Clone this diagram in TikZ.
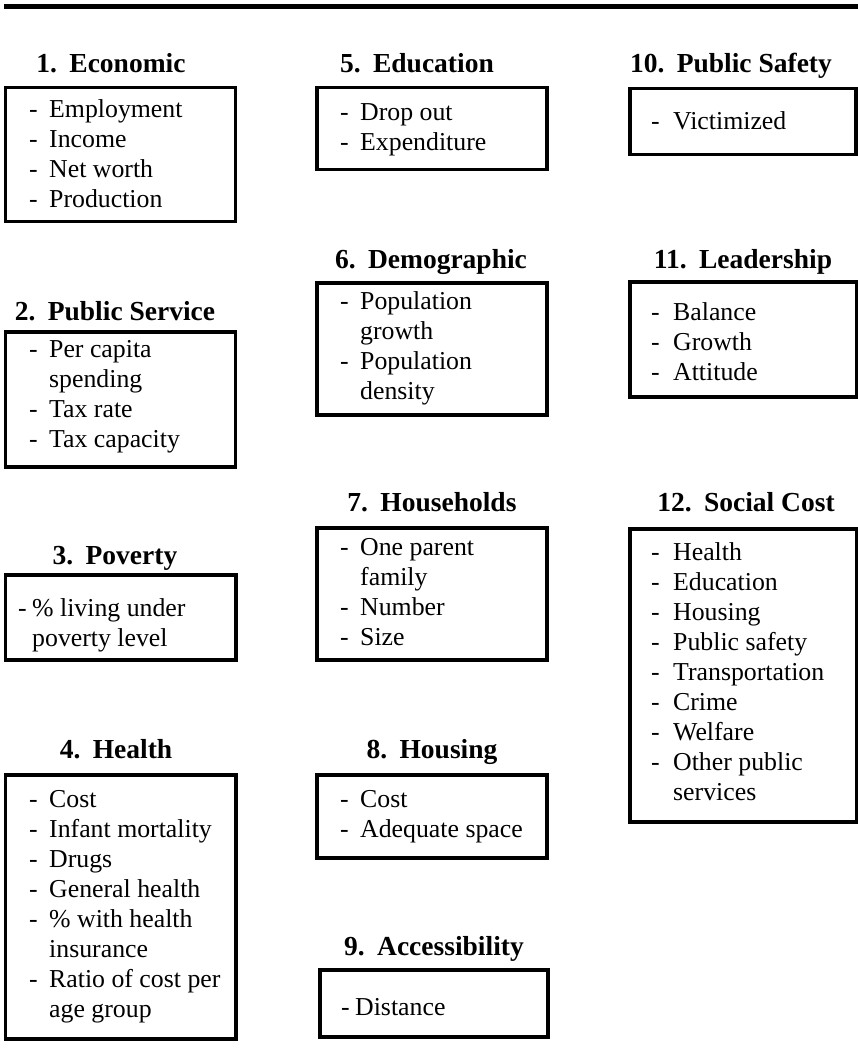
\documentclass[tikz,border=0pt]{standalone}
\usepackage{fontspec}
\setmainfont{Liberation Serif}
\newcommand{\itm}[2][20pt]{\makebox[#1][l]{-}#2}
\newcommand{\cnt}[2][20pt]{\makebox[#1]{}#2}
\begin{document}
\begin{tikzpicture}[x=1pt,y=1pt,
  boxs/.style={draw, line width=3.2pt, inner sep=0pt, outer sep=0pt, anchor=north west},
  ttl/.style={font=\fontsize{27.5}{30}\selectfont\bfseries, anchor=base, inner sep=0pt},
  lst/.style={font=\fontsize{25.8}{30}\selectfont, anchor=north west, inner sep=0pt}]
\useasboundingbox (0,0) rectangle (858,-1057);
% top rule
\coordinate (rl) at (4,-6.5);
\coordinate (rr) at (858,-6.5);
\draw[line width=4.5pt] (rl) -- (rr);

% column 1
\node[ttl] (t1) at (111,-72) {1.\hspace{0.45em}Economic};
\node[boxs, minimum width=230pt, minimum height=134pt] (b1) at (5.5,-87.5) {};
\node[lst] (l1) at (29,-96) {\begin{tabular}{@{}l@{}}\itm{Employment}\\ \itm{Income}\\ \itm{Net worth}\\ \itm{Production}\end{tabular}};

\node[ttl] (t2) at (115,-320) {2.\hspace{0.45em}Public Service};
\node[boxs, minimum width=230pt, minimum height=135pt] (b2) at (5.5,-332) {};
\node[lst] (l2) at (29,-336) {\begin{tabular}{@{}l@{}}\itm{Per capita}\\ \cnt{spending}\\ \itm{Tax rate}\\ \itm{Tax capacity}\end{tabular}};

\node[ttl] (t3) at (115,-564) {3.\hspace{0.45em}Poverty};
\node[boxs, minimum width=230.5pt, minimum height=85pt] (b3) at (5.5,-575) {};
\node[lst] (l3) at (18,-595) {\begin{tabular}{@{}l@{}}\itm[14pt]{\% living under}\\ \cnt[14pt]{poverty level}\end{tabular}};

\node[ttl] (t4) at (116,-758) {4.\hspace{0.45em}Health};
\node[boxs, minimum width=230.5pt, minimum height=264pt] (b4) at (5.5,-775) {};
\node[lst] (l4) at (29,-786) {\begin{tabular}{@{}l@{}}\itm{Cost}\\ \itm{Infant mortality}\\ \itm{Drugs}\\ \itm{General health}\\ \itm{\% with health}\\ \cnt{insurance}\\ \itm{Ratio of cost per}\\ \cnt{age group}\end{tabular}};

% column 2
\node[ttl] (t5) at (417,-72) {5.\hspace{0.45em}Education};
\node[boxs, minimum width=230pt, minimum height=82pt] (b5) at (317,-87.5) {};
\node[lst] (l5) at (340,-99) {\begin{tabular}{@{}l@{}}\itm{Drop out}\\ \itm{Expenditure}\end{tabular}};

\node[ttl] (t6) at (431,-268) {6.\hspace{0.45em}Demographic};
\node[boxs, minimum width=230pt, minimum height=132pt] (b6) at (317,-283) {};
\node[lst] (l6) at (340,-288) {\begin{tabular}{@{}l@{}}\itm{Population}\\ \cnt{growth}\\ \itm{Population}\\ \cnt{density}\end{tabular}};

\node[ttl] (t7) at (432,-511) {7.\hspace{0.45em}Households};
\node[boxs, minimum width=230pt, minimum height=132pt] (b7) at (317,-528) {};
\node[lst] (l7) at (340,-534) {\begin{tabular}{@{}l@{}}\itm{One parent}\\ \cnt{family}\\ \itm{Number}\\ \itm{Size}\end{tabular}};

\node[ttl] (t8) at (432,-758) {8.\hspace{0.45em}Housing};
\node[boxs, minimum width=230pt, minimum height=83pt] (b8) at (317,-775) {};
\node[lst] (l8) at (340,-786) {\begin{tabular}{@{}l@{}}\itm{Cost}\\ \itm{Adequate space}\end{tabular}};

\node[ttl] (t9) at (434,-955) {9.\hspace{0.45em}Accessibility};
\node[boxs, minimum width=228pt, minimum height=67pt] (b9) at (320,-970) {};
\node[lst] (l9) at (341,-994) {\begin{tabular}{@{}l@{}}\itm[14pt]{Distance}\end{tabular}};

% column 3
\node[ttl] (t10) at (731,-72) {10.\hspace{0.45em}Public Safety};
\node[boxs, minimum width=226pt, minimum height=66pt] (b10) at (630,-88.5) {};
\node[lst] (l10) at (651,-108) {\begin{tabular}{@{}l@{}}\itm[22pt]{Victimized}\end{tabular}};

\node[ttl] (t11) at (743,-268) {11.\hspace{0.45em}Leadership};
\node[boxs, minimum width=226.5pt, minimum height=115pt] (b11) at (630,-282) {};
\node[lst] (l11) at (651,-299) {\begin{tabular}{@{}l@{}}\itm[22pt]{Balance}\\ \itm[22pt]{Growth}\\ \itm[22pt]{Attitude}\end{tabular}};

\node[ttl] (t12) at (746,-511) {12.\hspace{0.45em}Social Cost};
\node[boxs, minimum width=226.5pt, minimum height=293pt] (b12) at (630,-529) {};
\node[lst] (l12) at (651,-539) {\begin{tabular}{@{}l@{}}\itm[22pt]{Health}\\ \itm[22pt]{Education}\\ \itm[22pt]{Housing}\\ \itm[22pt]{Public safety}\\ \itm[22pt]{Transportation}\\ \itm[22pt]{Crime}\\ \itm[22pt]{Welfare}\\ \itm[22pt]{Other public}\\ \cnt[22pt]{services}\end{tabular}};
\end{tikzpicture}
\end{document}
